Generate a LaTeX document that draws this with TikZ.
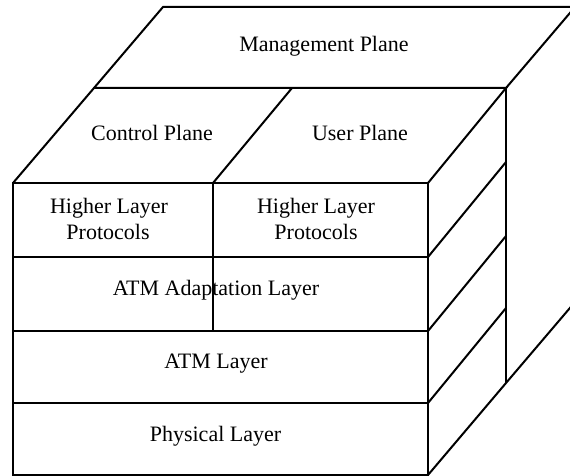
\documentclass[tikz,border=0pt]{standalone}
\usepackage{fontspec}
\setmainfont{Liberation Serif}
\begin{document}
\begin{tikzpicture}[x=1pt,y=-1pt,
  edge/.style={line width=2pt, line join=miter, line cap=butt},
  lbl/.style={font=\fontsize{22}{26}\selectfont, inner sep=0pt, anchor=base}]
\useasboundingbox (0,0) rectangle (570,476);
\clip (0,0) rectangle (570,476);
% front face corners
\coordinate (FTL) at (13,183);
\coordinate (FTR) at (428,183);
\coordinate (FBL) at (13,475);
\coordinate (FBR) at (428,475);
\coordinate (FDT) at (213,183);
\coordinate (FDB) at (213,331);
\coordinate (R1L) at (13,257);  \coordinate (R1R) at (428,257);
\coordinate (R2L) at (13,331);  \coordinate (R2R) at (428,331);
\coordinate (R3L) at (13,403);  \coordinate (R3R) at (428,403);
% back edges
\coordinate (BTL) at (94,88);
\coordinate (BTR) at (506,88);
\coordinate (BDT) at (292,88);
\coordinate (S1) at (506,162);
\coordinate (S2) at (506,236);
\coordinate (S3) at (506,308);
\coordinate (BBR) at (506,383);
% management plane
\coordinate (MTL) at (163,7);
\coordinate (MTR) at (575,7);
\coordinate (MBR) at (575,302);

% labels
\node[lbl] (mgmt) at (324,52) {Management Plane};
\node[lbl] (ctrl) at (152,140) {Control Plane};
\node[lbl] (user) at (360,140) {User Plane};
\node[lbl] (hlp1a) at (109,213) {Higher Layer};
\node[lbl] (hlp1b) at (108,239) {Protocols};
\node[lbl] (hlp2a) at (316,213) {Higher Layer};
\node[lbl] (hlp2b) at (316,239) {Protocols};
\node[lbl] (aal) at (216,295) {ATM Adaptation Layer};
\node[lbl] (atm) at (216,368) {ATM Layer};
\node[lbl] (phy) at (215.5,441) {Physical Layer};

% front face
\draw[edge] (FTL) rectangle (FBR);
\draw[edge] (R1L) -- (R1R);
\draw[edge] (R2L) -- (R2R);
\draw[edge] (R3L) -- (R3R);
\draw[edge] (FDT) -- (FDB);
% top planes
\draw[edge] (FTL) -- (BTL) -- (BTR) -- (FTR);
\draw[edge] (FDT) -- (BDT);
% management plane
\draw[edge] (BTL) -- (MTL) -- (MTR) -- (BTR);
% right face
\draw[edge] (R1R) -- (S1);
\draw[edge] (R2R) -- (S2);
\draw[edge] (R3R) -- (S3);
\draw[edge] (BTR) -- (BBR);
\draw[edge] (FBR) -- (BBR) -- (MBR);
\end{tikzpicture}
\end{document}
